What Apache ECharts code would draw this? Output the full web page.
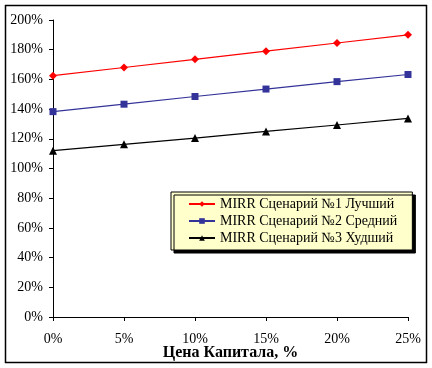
<!DOCTYPE html>
<html><head><meta charset="utf-8">
<script src="https://cdn.jsdelivr.net/npm/echarts@6/dist/echarts.min.js"></script>
<style>html,body{margin:0;padding:0;background:#fff}#c{width:432px;height:368px}</style>
</head><body><div id="c"></div>
<script>
const xValues = [0, 5, 10, 15, 20, 25];
const seriesNames = ['MIRR Сценарий №1 Лучший', 'MIRR Сценарий №2 Средний', 'MIRR Сценарий №3 Худший'];
const best = [162.5, 168, 173.5, 179, 184.5, 190];
const mid = [138.3, 143.3, 148.5, 153.5, 158.5, 163.3];
const worst = [112, 116.3, 120.5, 125, 129.3, 133.7];
const xTitle = 'Цена Капитала, %';

const font = '"Liberation Serif", "Times New Roman", serif';
const chart = echarts.init(document.getElementById('c'));
function pairs(arr){ return xValues.map((x,i)=>[x, arr[i]]); }
const styles = [
  {color:'#FF0000', symbol:'diamond', size:8},
  {color:'#333399', symbol:'rect', size:7},
  {color:'#000000', symbol:'triangle', size:8}
];
const datas = [best, mid, worst];
chart.setOption({
  animation:false,
  textStyle:{fontFamily:font},
  graphic:[{type:'rect', shape:{x:5.5,y:5.5,width:421,height:357}, style:{fill:'none', stroke:'#000', lineWidth:1.5}, z:-1}],
  grid:{left:53, right:24, top:20, bottom:51},
  xAxis:{type:'value', min:0, max:25, interval:5,
    name:xTitle, nameLocation:'middle', nameGap:28, nameMoveOverlap:false,
    nameTextStyle:{fontFamily:font, fontWeight:'bold', fontSize:16, color:'#000'},
    axisLine:{lineStyle:{color:'#000', width:1}},
    axisTick:{show:true, inside:false, length:4, lineStyle:{color:'#000'}},
    axisLabel:{formatter:'{value}%', fontFamily:font, fontSize:14, color:'#000', margin:15},
    splitLine:{show:false}},
  yAxis:{type:'value', min:0, max:200, interval:20,
    axisLine:{show:true, lineStyle:{color:'#000', width:1}},
    axisTick:{show:true, inside:false, length:4, lineStyle:{color:'#000'}},
    axisLabel:{formatter:'{value}%', fontFamily:font, fontSize:14, color:'#000', margin:10},
    splitLine:{show:false}},
  legend:{orient:'vertical', left:171, top:192,
    backgroundColor:'#FFFFCC', borderColor:'#000', borderWidth:1,
    shadowColor:'#000', shadowBlur:0, shadowOffsetX:3, shadowOffsetY:3,
    padding:[5,15,5,17], itemWidth:26, itemHeight:7, itemGap:3,
    textStyle:{fontFamily:font, fontSize:14, color:'#000'},
    data:seriesNames},
  series: seriesNames.map((n,i)=>({
    name:n, type:'line', data:pairs(datas[i]),
    symbol:styles[i].symbol, symbolSize:styles[i].size,
    lineStyle:{color:styles[i].color, width:1.2},
    itemStyle:{color:styles[i].color}
  }))
});
</script></body></html>
